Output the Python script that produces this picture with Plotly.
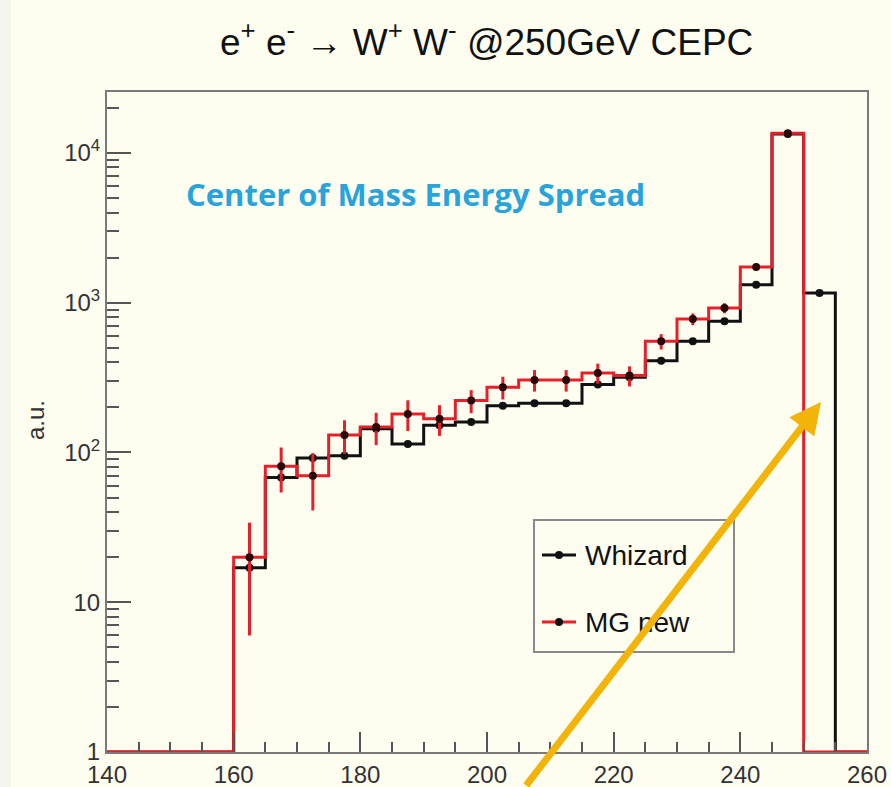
import plotly.graph_objects as go

# ---- histogram data: sqrt(s) spectrum, 5 GeV bins from 140 to 260 GeV ----
bin_edges = list(range(140, 265, 5))
whizard_counts = [0, 0, 0, 0,
                  17, 68, 92, 95, 144, 114, 152, 160, 205, 213, 213, 284,
                  318, 410, 552, 751, 1318, 13400, 1160, 0]
mg_new_counts = [0, 0, 0, 0,
                 20, 81, 70, 131, 148, 181, 168, 222, 273, 305, 305, 340,
                 326, 552, 778, 921, 1730, 13520, 0, 0]
mg_new_errors = [0, 0, 0, 0,
                 14, 27, 29, 33, 36, 42, 39, 39, 47, 50, 50, 52,
                 50, 65, 70, 72, 80, 150, 0, 0]

x_ticks = [140, 160, 180, 200, 220, 240, 260]
y_ticks = [1, 10, 100, 1000, 10000]
y_tick_text = ["1", "10", "10<sup>2</sup>", "10<sup>3</sup>", "10<sup>4</sup>"]

BG = "#fefef0"
RED = "#e5202b"
BLACK = "#111111"
FLOOR = 1.0  # empty bins are drawn on the lower edge of the log axis

W, H = 891, 787
ML, MR, MT, MB = 107, 24, 92, 35
PW, PH = W - ML - MR, H - MT - MB


def px(xp):
    return (xp - ML) / PW


def py(yp):
    return (H - MB - yp) / PH


def step_outline(edges, counts):
    xs = list(edges)
    ys = [max(c, FLOOR) for c in counts] + [max(counts[-1], FLOOR)]
    return xs, ys


def filled_points(edges, counts, errors=None):
    xs, ys, es = [], [], []
    for i, c in enumerate(counts):
        if c > 0:
            xs.append((edges[i] + edges[i + 1]) / 2)
            ys.append(c)
            es.append(errors[i] if errors else 0)
    return xs, ys, es


fig = go.Figure()

# Whizard
wx, wy = step_outline(bin_edges, whizard_counts)
fig.add_trace(go.Scatter(x=wx, y=wy, mode="lines", line=dict(color=BLACK, width=3, shape="hv"),
                         showlegend=False, hoverinfo="skip"))
cx, cy, _ = filled_points(bin_edges, whizard_counts)
fig.add_trace(go.Scatter(x=cx, y=cy, mode="markers", marker=dict(color=BLACK, size=8),
                         showlegend=False, name="Whizard"))

# MG new
mx, my = step_outline(bin_edges, mg_new_counts)
fig.add_trace(go.Scatter(x=mx, y=my, mode="lines", line=dict(color=RED, width=3, shape="hv"),
                         showlegend=False, hoverinfo="skip"))
cx, cy, ce = filled_points(bin_edges, mg_new_counts, mg_new_errors)
fig.add_trace(go.Scatter(x=cx, y=cy, mode="markers", marker=dict(color="#2a0606", size=8),
                         error_y=dict(type="data", array=ce, visible=True, color=RED,
                                      thickness=3, width=0),
                         showlegend=False, name="MG new"))

minor_y = [m * 10 ** k for k in range(0, 5) for m in range(2, 10)]
minor_y = [v for v in minor_y if v < 25500]

axis_font = dict(family="Liberation Sans, Arial, sans-serif", size=24, color="#333333")

fig.update_layout(
    width=W, height=H,
    margin=dict(l=ML, r=MR, t=MT, b=MB, autoexpand=False),
    paper_bgcolor=BG, plot_bgcolor=BG,
    showlegend=False,
    xaxis=dict(range=[140, 260], tickmode="array", tickvals=x_ticks, automargin=False,
               ticks="inside", ticklen=20, tickwidth=2, tickcolor="#555555",
               minor=dict(dtick=5, tick0=140, ticks="inside", ticklen=10, tickwidth=2,
                          tickcolor="#555555", showgrid=False),
               showgrid=False, zeroline=False,
               showline=True, linecolor="#7a7a7a", linewidth=2, mirror=True,
               tickfont=axis_font),
    yaxis=dict(type="log", range=[0, 4.407], tickmode="array", tickvals=y_ticks,
               ticktext=y_tick_text, automargin=False,
               ticks="inside", ticklen=24, tickwidth=2, tickcolor="#555555",
               minor=dict(tickmode="array", tickvals=minor_y, ticks="inside", ticklen=12,
                          tickwidth=2, tickcolor="#555555", showgrid=False),
               showgrid=False, zeroline=False,
               showline=True, linecolor="#7a7a7a", linewidth=2, mirror=True,
               tickfont=axis_font),
)

shapes = []
# light border strip at the page edge
shapes.append(dict(type="rect", xref="paper", yref="paper", x0=px(0), x1=px(11), y0=py(H), y1=py(0),
                   fillcolor="#f4f4ef", line=dict(width=0), layer="below"))

# legend box
lx0, lx1, ly0, ly1 = 534, 734, 520, 652
shapes.append(dict(type="rect", xref="paper", yref="paper", x0=px(lx0), x1=px(lx1), y0=py(ly1), y1=py(ly0),
                   fillcolor=BG, line=dict(color="#8a8a8a", width=2)))
for yy, col in [(555, BLACK), (622, RED)]:
    shapes.append(dict(type="line", xref="paper", yref="paper", x0=px(542), x1=px(576), y0=py(yy), y1=py(yy),
                       line=dict(color=col, width=3)))
    shapes.append(dict(type="circle", xref="paper", yref="paper", xsizemode="pixel", ysizemode="pixel",
                       xanchor=px(559), yanchor=py(yy), x0=-4, x1=4, y0=-4, y1=4,
                       fillcolor=BLACK, line=dict(color=BLACK, width=0)))
fig.update_layout(shapes=shapes)

annotations = [
    dict(text="e<sup>+</sup> e<sup>-</sup> \u2192 W<sup>+</sup> W<sup>-</sup> @250GeV CEPC",
         xref="paper", yref="paper", x=px(486), y=py(40), xanchor="center", yanchor="middle",
         showarrow=False, font=dict(family="Liberation Sans, Arial, sans-serif", size=37, color="#111111")),
    dict(text="<b>Center of Mass Energy Spread</b>", xref="paper", yref="paper",
         x=px(184), y=py(194), xanchor="left", yanchor="middle", showarrow=False,
         font=dict(family="Open Sans, Lato, sans-serif", size=31, color="#29a3dc")),
    dict(text="a.u.", xref="paper", yref="paper", x=px(35), y=py(420), textangle=-90,
         xanchor="center", yanchor="middle", showarrow=False,
         font=dict(family="Liberation Sans, Arial, sans-serif", size=24, color="#333333")),
    dict(text="Whizard", xref="paper", yref="paper", x=px(583), y=py(555), xanchor="left", yanchor="middle",
         showarrow=False, font=dict(family="Liberation Sans, Arial, sans-serif", size=28, color="#111111")),
    dict(text="MG new", xref="paper", yref="paper", x=px(583), y=py(622), xanchor="left", yanchor="middle",
         showarrow=False, font=dict(family="Liberation Sans, Arial, sans-serif", size=28, color="#111111")),
    # highlight arrow pointing at the energy-spread tail
    dict(text="", xref="paper", yref="paper", x=px(821), y=py(402), axref="pixel", ayref="pixel",
         ax=525 - 821, ay=787 - 402, showarrow=True, arrowhead=2, arrowsize=0.9, arrowwidth=7,
         arrowcolor="#f3b40a"),
]
fig.update_layout(annotations=annotations)

fig.write_html("out.html")
